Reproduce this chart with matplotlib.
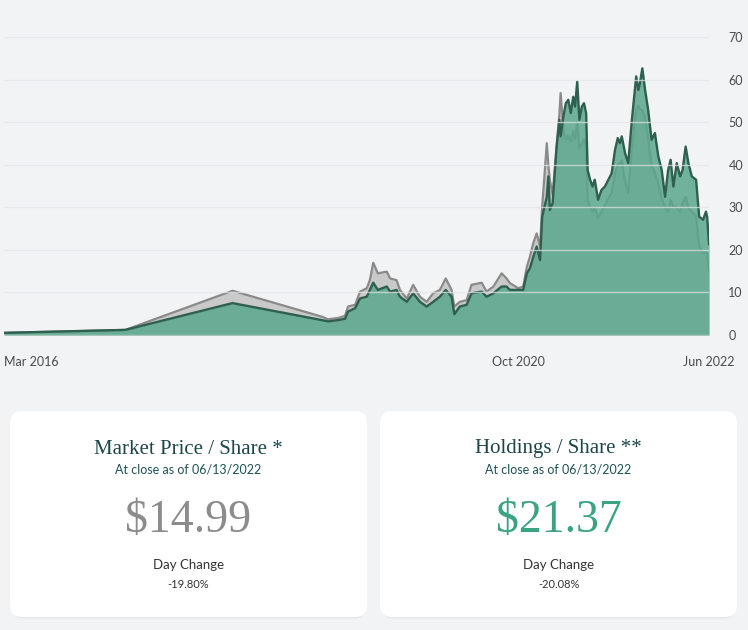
"""Market price vs holdings per share, with summary cards."""

import matplotlib.pyplot as plt
import pandas as pd
from matplotlib.patches import FancyBboxPatch

dates = [
    "2016-03-01", "2017-03-31", "2018-03-15", "2018-12-31", "2019-01-20",
    "2019-02-21", "2019-03-16", "2019-03-26", "2019-04-18", "2019-05-04",
    "2019-05-26", "2019-06-05", "2019-06-16", "2019-07-01", "2019-07-30",
    "2019-08-10", "2019-08-31", "2019-09-11", "2019-10-03", "2019-10-24",
    "2019-11-15", "2019-12-07", "2019-12-28", "2020-01-19", "2020-02-07",
    "2020-02-26", "2020-03-06", "2020-03-24", "2020-04-15", "2020-05-01",
    "2020-06-03", "2020-06-19", "2020-07-11", "2020-08-07", "2020-08-23",
    "2020-09-03", "2020-09-30", "2020-10-16", "2020-10-28", "2020-11-07",
    "2020-11-18", "2020-11-29", "2020-12-10", "2020-12-17", "2021-01-01",
    "2021-01-06", "2021-01-11", "2021-01-20", "2021-02-02", "2021-02-11",
    "2021-02-15", "2021-02-24", "2021-03-04", "2021-03-12", "2021-03-20",
    "2021-03-28", "2021-04-03", "2021-04-10", "2021-04-17", "2021-04-25",
    "2021-05-02", "2021-05-09", "2021-05-14", "2021-05-22", "2021-05-30",
    "2021-06-06", "2021-06-17", "2021-06-28", "2021-07-09", "2021-07-31",
    "2021-08-11", "2021-08-20", "2021-08-27", "2021-09-02", "2021-09-13",
    "2021-09-23", "2021-10-05", "2021-10-19", "2021-10-26", "2021-10-31",
    "2021-11-08", "2021-11-17", "2021-11-27", "2021-12-08", "2021-12-19",
    "2021-12-30", "2022-01-10", "2022-01-21", "2022-01-31", "2022-02-08",
    "2022-02-17", "2022-02-28", "2022-03-11", "2022-03-19", "2022-03-29",
    "2022-04-07", "2022-04-18", "2022-05-02", "2022-05-12", "2022-05-25",
    "2022-06-03", "2022-06-07", "2022-06-13",
]

market_price = [
    0.5, 1.2, 10.4, 4.3, 3.7,
    4.0, 4.5, 6.7, 7.1, 10.2,
    11.0, 12.9, 17.0, 14.5, 14.9,
    13.3, 12.9, 10.6, 8.6, 11.8,
    9.0, 7.8, 9.8, 10.6, 13.3,
    10.6, 6.7, 7.8, 8.2, 11.8,
    12.3, 10.2, 11.4, 14.5, 13.3,
    12.2, 11.0, 11.4, 16.0, 18.4,
    21.6, 23.9, 20.8, 30.2, 45.1,
    40.0, 36.5, 33.0, 44.5, 52.0,
    56.9, 48.2, 46.0, 47.0, 45.5,
    48.0, 46.0, 50.0, 44.0, 45.0,
    46.0, 44.0, 32.0, 30.0, 29.0,
    30.0, 27.5, 29.0, 30.5, 33.5,
    38.0, 40.0, 40.4, 41.0, 36.0,
    33.4, 44.0, 52.9, 54.0, 53.0,
    52.9, 51.0, 46.0, 40.0, 38.0,
    35.7, 32.0, 30.2, 29.0, 31.8,
    30.2, 30.0, 29.0, 31.0, 32.5,
    30.0, 29.0, 28.0, 20.8, 19.2,
    19.5, 19.0, 14.99,
]

holdings = [
    0.5, 1.2, 7.5, 3.5, 3.2,
    3.5, 3.8, 5.5, 6.3, 8.6,
    9.0, 10.6, 12.3, 10.6, 11.4,
    10.2, 10.6, 9.0, 7.8, 9.8,
    7.8, 6.7, 7.8, 9.0, 10.6,
    9.0, 4.9, 6.7, 7.1, 9.8,
    10.2, 9.0, 9.8, 11.4, 11.4,
    10.6, 10.6, 10.6, 14.5, 15.7,
    18.4, 20.8, 17.6, 27.8, 32.5,
    37.3, 29.4, 31.0, 44.3, 50.6,
    46.7, 51.4, 54.5, 55.3, 52.2,
    56.0, 53.7, 59.6, 50.6, 53.7,
    54.5, 52.2, 38.8, 36.5, 34.9,
    36.5, 31.8, 34.1, 34.9, 38.0,
    43.5, 46.3, 45.1, 46.7, 42.7,
    40.4, 50.6, 60.8, 57.6, 59.2,
    62.7, 57.6, 52.9, 45.9, 47.5,
    42.0, 38.8, 32.5, 38.8, 41.2,
    34.9, 40.4, 37.3, 38.8, 44.3,
    40.4, 37.3, 36.5, 27.8, 27.1,
    29.0, 27.8, 21.37,
]

y_ticks = [0, 10, 20, 30, 40, 50, 60, 70]
x_tick_dates = ["2016-03-01", "2020-10-01", "2022-06-13"]
x_tick_labels = ["Mar 2016", "Oct 2020", "Jun 2022"]

cards = [
    {"title": "Market Price / Share *", "value": "$14.99", "change": "-19.80%", "color": "#8c8c8c"},
    {"title": "Holdings / Share **", "value": "$21.37", "change": "-20.08%", "color": "#3aa383"},
]
close_date = "06/13/2022"

BG = "#f2f3f5"
W, H = 748, 630

x = pd.to_datetime(dates)

fig = plt.figure(figsize=(W / 100, H / 100), dpi=100)
fig.patch.set_facecolor(BG)

# chart area in pixel coords: x 4..709, y 37..335
ax = fig.add_axes([4 / W, (H - 335) / H, (709 - 4) / W, (335 - 37.3) / H])
ax.set_facecolor(BG)
ax.fill_between(x, market_price, color="#c9c9c9", lw=0, zorder=1)
ax.plot(x, market_price, color="#8a8a8a", lw=1.6, zorder=2)
ax.fill_between(x, holdings, color="#5ba78d", alpha=0.85, lw=0, zorder=3)
ax.plot(x, holdings, color="#2e5f4f", lw=1.7, zorder=4)

ax.set_xlim(x[0], x[-1])
ax.set_ylim(0, 70)
for v in y_ticks:
    ax.axhline(v, color="#e4e6ea", lw=1, alpha=0.7, zorder=5)

ax.yaxis.tick_right()
ax.set_yticks(y_ticks)
ax.set_xticks(pd.to_datetime(x_tick_dates))
ax.set_xticklabels(x_tick_labels)
ax.tick_params(axis="both", length=0, labelsize=9, labelcolor="#4a4a4a")
ax.tick_params(axis="y", pad=14)
ax.tick_params(axis="x", pad=15)
for lab in ax.get_xticklabels() + ax.get_yticklabels():
    lab.set_fontfamily("Lato")
ax.get_xticklabels()[0].set_horizontalalignment("left")
for s in ax.spines.values():
    s.set_visible(False)

# overlay in pixel coords for the summary cards
ov = fig.add_axes([0, 0, 1, 1], zorder=-1)
ov.set_xlim(0, W)
ov.set_ylim(H, 0)
ov.axis("off")

card_x = [10, 380]
card_w = 357
card_top, card_h = 411, 206
for cx, card in zip(card_x, cards):
    for k, a in enumerate([0.05, 0.07, 0.09]):
        off = 3 - k
        ov.add_patch(FancyBboxPatch(
            (cx + 2, card_top + off), card_w - 4, card_h,
            boxstyle="round,pad=0,rounding_size=12",
            fc="#b8bcc4", ec="none", alpha=a,
        ))
    ov.add_patch(FancyBboxPatch(
        (cx, card_top), card_w, card_h,
        boxstyle="round,pad=0,rounding_size=12",
        fc="white", ec="none",
    ))
    mid = cx + card_w / 2
    ov.text(mid, 449, card["title"], ha="center", va="center", fontsize=15,
            family="Liberation Serif", color="#1e4648")
    ov.text(mid, 469, f"At close as of {close_date}", ha="center", va="center",
            fontsize=9, family="Lato", color="#1e5254")
    ov.text(mid, 521, card["value"], ha="center", va="center", fontsize=33,
            family="Liberation Serif", color=card["color"])
    ov.text(mid, 565, "Day Change", ha="center", va="center", fontsize=9.5,
            family="Lato", color="#333333")
    ov.text(mid, 584, card["change"], ha="center", va="center", fontsize=8,
            family="Lato", color="#333333")

fig.savefig("out.png", dpi=100, facecolor=BG)
plt.close(fig)
